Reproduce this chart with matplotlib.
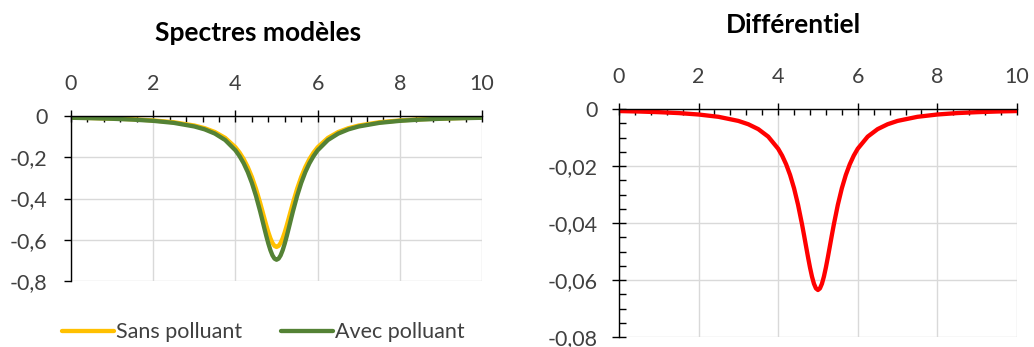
import matplotlib
matplotlib.use("Agg")
import matplotlib.pyplot as plt
from matplotlib.ticker import MultipleLocator, FuncFormatter

plt.rcParams["font.family"] = ["Lato", "DejaVu Sans"]

# wavelength axis (arbitrary units)
x = [0.0, 0.5, 1.0, 1.5, 2.0, 2.5, 3.0, 3.25, 3.5, 3.75,
     4.0, 4.1, 4.2, 4.3, 4.4, 4.5, 4.6, 4.65, 4.7, 4.75,
     4.8, 4.85, 4.9, 4.95, 5.0, 5.05, 5.1, 5.15, 5.2, 5.25,
     5.3, 5.35, 5.4, 5.5, 5.6, 5.7, 5.8, 5.9, 6.0, 6.25,
     6.5, 6.75, 7.0, 7.5, 8.0, 8.5, 9.0, 9.5, 10.0]

sans_polluant = [-0.0079, -0.0097, -0.0122, -0.0158, -0.0214, -0.0303, -0.0462, -0.0590, -0.0777, -0.1061,
                 -0.1516, -0.1772, -0.2088, -0.2478, -0.2956, -0.3533, -0.4205, -0.4566, -0.4934, -0.5295,
                 -0.5632, -0.5925, -0.6154, -0.6300, -0.6350, -0.6300, -0.6154, -0.5925, -0.5632, -0.5295,
                 -0.4934, -0.4566, -0.4205, -0.3533, -0.2956, -0.2478, -0.2088, -0.1772, -0.1516, -0.1061,
                 -0.0777, -0.0590, -0.0462, -0.0303, -0.0214, -0.0158, -0.0122, -0.0097, -0.0079]

avec_polluant = [-0.0086, -0.0106, -0.0134, -0.0174, -0.0235, -0.0333, -0.0507, -0.0647, -0.0853, -0.1165,
                 -0.1664, -0.1945, -0.2292, -0.2720, -0.3245, -0.3878, -0.4615, -0.5012, -0.5416, -0.5812,
                 -0.6181, -0.6503, -0.6755, -0.6915, -0.6970, -0.6915, -0.6755, -0.6503, -0.6181, -0.5812,
                 -0.5416, -0.5012, -0.4615, -0.3878, -0.3245, -0.2720, -0.2292, -0.1945, -0.1664, -0.1165,
                 -0.0853, -0.0647, -0.0507, -0.0333, -0.0235, -0.0174, -0.0134, -0.0106, -0.0086]

differentiel = [-0.00071, -0.00087, -0.00110, -0.00142, -0.00192, -0.00273, -0.00417, -0.00534, -0.00705, -0.00968,
                -0.01393, -0.01635, -0.01937, -0.02314, -0.02783, -0.03360, -0.04046, -0.04422, -0.04809, -0.05194,
                -0.05558, -0.05879, -0.06132, -0.06294, -0.06350, -0.06294, -0.06132, -0.05879, -0.05558, -0.05194,
                -0.04809, -0.04422, -0.04046, -0.03360, -0.02783, -0.02314, -0.01937, -0.01635, -0.01393, -0.00968,
                -0.00705, -0.00534, -0.00417, -0.00273, -0.00192, -0.00142, -0.00110, -0.00087, -0.00071]

GOLD = "#FFC000"
GREEN = "#548235"
RED = "#FF0000"
GRID = "#D9D9D9"
TXT = "#404040"
FS = 15.5


def comma(v, _pos):
    if abs(v) < 1e-12:
        return "0"
    s = f"{v:.2f}" if abs(v) < 0.1 else f"{v:.1f}"
    return s.replace(".", ",")


def _style(ax, ymin, ystep, yminor=None):
    ax.set_xlim(0, 10)
    ax.set_ylim(ymin, 0)
    ax.xaxis.tick_top()
    ax.xaxis.set_major_locator(MultipleLocator(2))
    ax.xaxis.set_minor_locator(MultipleLocator(0.4))
    ax.yaxis.set_major_locator(MultipleLocator(ystep))
    ax.yaxis.set_major_formatter(FuncFormatter(comma))
    for s in ("right", "bottom"):
        ax.spines[s].set_visible(False)
    for s in ("left", "top"):
        ax.spines[s].set_color("black")
        ax.spines[s].set_linewidth(1.0)
    ax.grid(True, which="major", color=GRID, lw=1.0)
    ax.tick_params(axis="x", which="major", direction="inout", length=8, width=1,
                   labelsize=FS, labelcolor=TXT, pad=12)
    ax.tick_params(axis="x", which="minor", direction="in", length=4, width=1)
    if yminor:
        ax.yaxis.set_minor_locator(MultipleLocator(yminor))
        ax.tick_params(axis="y", which="major", direction="inout", length=10, width=1,
                       labelsize=FS, labelcolor=TXT, pad=10)
        ax.tick_params(axis="y", which="minor", direction="in", length=5, width=1)
    else:
        ax.tick_params(axis="y", which="major", direction="out", length=5, width=1,
                       labelsize=FS, labelcolor=TXT, pad=12)
    ax.set_axisbelow(True)


fig = plt.figure(figsize=(10.34, 3.47), dpi=100)

ax1 = fig.add_axes([0.0687, 0.1902, 0.3975, 0.4755])
ax1.plot(x, sans_polluant, color=GOLD, lw=3.1, label="Sans polluant", solid_capstyle="round")
ax1.plot(x, avec_polluant, color=GREEN, lw=3.1, label="Avec polluant", solid_capstyle="round")
_style(ax1, -0.8, 0.2)
ax1.legend(loc="center", bbox_to_anchor=(0.468, -0.31), ncol=2, frameon=False,
           fontsize=FS, handlelength=2.4, handletextpad=0.1, columnspacing=1.8,
           labelcolor=TXT)
fig.text(258 / 1034, 1 - 33 / 347, "Spectres modèles", ha="center", va="center",
         fontsize=19, fontweight="bold", color="black")

ax2 = fig.add_axes([0.5986, 0.0288, 0.3849, 0.657])
ax2.plot(x, differentiel, color=RED, lw=3.1, solid_capstyle="round")
_style(ax2, -0.08, 0.02, yminor=0.005)
fig.text(793 / 1034, 1 - 25 / 347, "Différentiel", ha="center", va="center",
         fontsize=19, fontweight="bold", color="black")

fig.savefig("out.png", dpi=100)
